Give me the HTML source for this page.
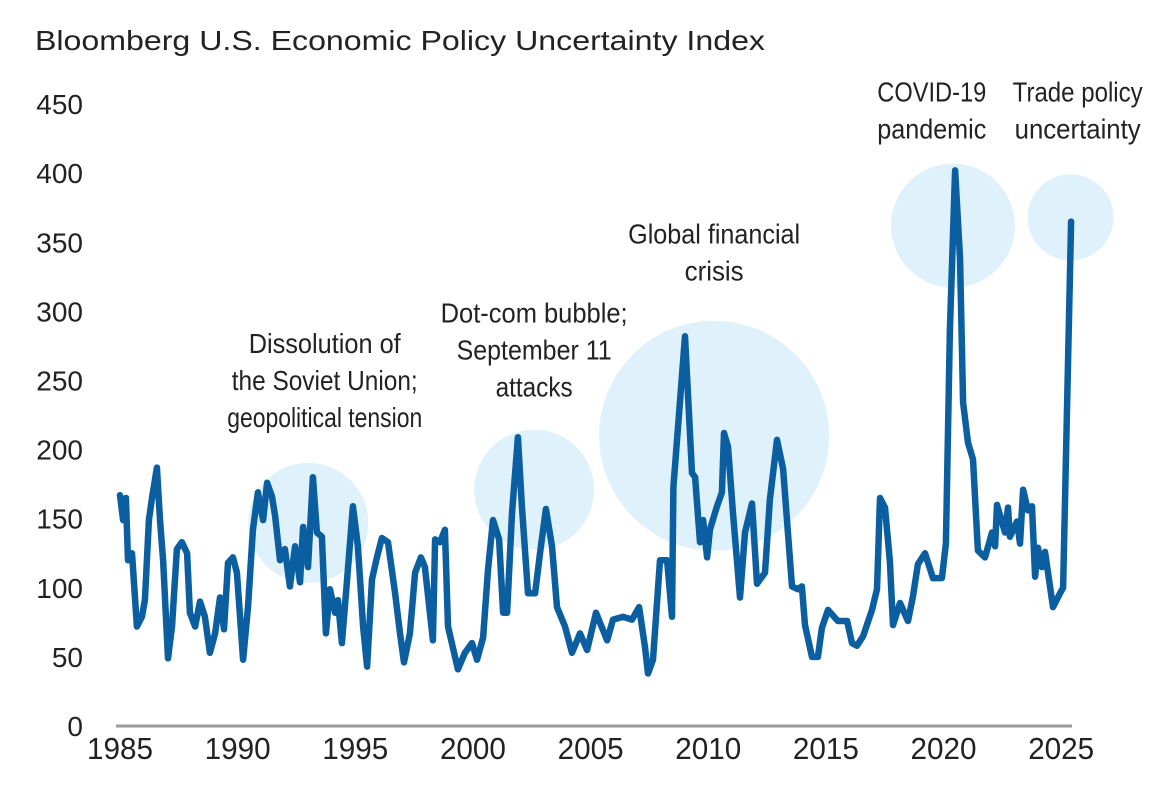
<!DOCTYPE html>
<html><head><meta charset="utf-8"><style>
html,body{margin:0;padding:0;background:#fff;}
svg{display:block;font-family:"Liberation Sans",sans-serif;}
</style></head><body>
<svg id="chart" width="1175" height="788" viewBox="0 0 1175 788" xmlns="http://www.w3.org/2000/svg">
<text x="35" y="50" font-size="28" fill="#222" textLength="730" lengthAdjust="spacingAndGlyphs">Bloomberg U.S. Economic Policy Uncertainty Index</text>
<g id="bubbles"></g>
<g id="yaxis"></g>
<g id="xaxis"></g>
<line x1="116" y1="726" x2="1072" y2="726" stroke="#9a9a9a" stroke-width="3"/>
<path id="series" fill="none" stroke="#0b5fa0" stroke-width="6.5" stroke-linejoin="round" stroke-linecap="round"/>
<g id="annotations" font-size="28" fill="#222"></g>
</svg>
<script>
const years = [
1985.00,1985.13,1985.25,1985.34,1985.51,1985.72,1985.93,1986.06,1986.23,1986.36,
1986.57,1986.70,1986.83,1987.04,1987.21,1987.42,1987.63,1987.85,1987.97,1988.19,
1988.40,1988.61,1988.82,1989.04,1989.25,1989.42,1989.59,1989.80,1989.97,1990.23,
1990.44,1990.65,1990.86,1991.08,1991.25,1991.46,1991.59,1991.80,1992.01,1992.22,
1992.44,1992.65,1992.78,1992.99,1993.20,1993.37,1993.58,1993.75,1993.92,1994.14,
1994.26,1994.43,1994.65,1994.90,1995.11,1995.33,1995.50,1995.71,1995.92,1996.13,
1996.39,1996.69,1996.90,1997.07,1997.32,1997.54,1997.79,1997.96,1998.30,1998.39,
1998.60,1998.81,1998.94,1999.36,1999.66,1999.96,2000.17,2000.43,2000.64,2000.85,
2001.11,2001.28,2001.45,2001.66,2001.91,2002.08,2002.34,2002.64,2002.85,2003.10,
2003.36,2003.57,2003.91,2004.21,2004.55,2004.85,2005.23,2005.70,2005.95,2006.38,
2006.76,2007.06,2007.31,2007.44,2007.65,2007.95,2008.25,2008.46,2008.52,2009.01,
2009.31,2009.44,2009.65,2009.78,2009.95,2010.07,2010.37,2010.58,2010.67,2010.84,
2011.05,2011.35,2011.56,2011.86,2012.07,2012.41,2012.62,2012.92,2013.18,2013.56,
2013.81,2013.98,2014.11,2014.41,2014.66,2014.83,2015.09,2015.51,2015.90,2016.11,
2016.32,2016.58,2016.96,2017.17,2017.30,2017.51,2017.72,2017.85,2018.15,2018.49,
2018.70,2018.91,2019.21,2019.55,2019.93,2020.10,2020.27,2020.49,2020.70,2020.83,
2021.04,2021.25,2021.46,2021.76,2022.06,2022.19,2022.27,2022.61,2022.74,2022.82,
2023.12,2023.25,2023.38,2023.59,2023.76,2023.89,2024.01,2024.18,2024.31,2024.65,
2024.95,2025.08,2025.42];
const values = [
167,149,165,120,125,72,79,91,149,165,
187,149,120,49,72,128,133,125,82,72,
90,79,53,67,93,70,118,122,111,48,
86,142,169,149,176,166,152,120,128,101,
130,104,144,115,180,140,137,67,99,82,
91,60,106,159,130,72,43,106,122,136,
133,96,67,46,67,111,122,115,62,135,
133,142,72,41,53,60,48,64,113,149,
135,82,82,154,209,159,96,96,125,157,
130,86,72,53,67,55,82,62,77,79,
77,86,57,38,48,120,120,79,173,282,
183,180,133,149,122,142,159,169,212,202,
154,93,140,161,103,111,164,207,186,101,
99,101,73,50,50,71,84,76,76,60,
58,65,84,99,165,158,119,73,89,76,
94,117,125,107,107,132,287,402,339,234,
205,193,127,122,140,130,160,140,158,137,
148,132,171,156,159,108,129,115,126,86,
96,100,365];
const yTicks = [0,50,100,150,200,250,300,350,400,450];
const xTicks = [1985,1990,1995,2000,2005,2010,2015,2020,2025];
const bubbleYears = [1993.0,2002.6,2010.25,2020.4,2025.4];
const bubbleValues = [147,171,210,362,368];
const bubbleRadii = [60,60,115,62,43];
const annotationYears = [1993.7,2002.6,2010.25,2019.5,2025.7];
const annotationLines = [["Dissolution of","the Soviet Union;","geopolitical tension"],["Dot-com bubble;","September 11","attacks"],["Global financial","crisis"],["COVID-19","pandemic"],["Trade policy","uncertainty"]];
const annotationTopValues = [270,292,349,452,452];
const annotationWidths = [[152,186,195],[187,155,77],[172,59],[109,109],[130,126]];

const X0=120, PX_PER_YEAR=23.53, Y0=726, PX_PER_UNIT=1.382;
function xs(y){return X0+(y-1985)*PX_PER_YEAR;}
function ys(v){return Y0-v*PX_PER_UNIT;}
const NS="http://www.w3.org/2000/svg";

const bg=document.getElementById('bubbles');
bubbleYears.forEach((b,i)=>{
  const c=document.createElementNS(NS,'circle');
  
  
  c.setAttribute('cx',xs(b));c.setAttribute('cy',ys(bubbleValues[i]));
  c.setAttribute('r',bubbleRadii[i]);c.setAttribute('fill','#dff1fb');
  bg.appendChild(c);
});

const ya=document.getElementById('yaxis');
yTicks.forEach(t=>{
  const tx=document.createElementNS(NS,'text');
  
  
  tx.setAttribute('x',83);tx.setAttribute('y',ys(t)+10);
  tx.setAttribute('text-anchor','end');tx.setAttribute('font-size','28');tx.setAttribute('fill','#222');
  tx.textContent=t;ya.appendChild(tx);
});

const xa=document.getElementById('xaxis');
xTicks.forEach(t=>{
  const tx=document.createElementNS(NS,'text');
  
  
  tx.setAttribute('x',xs(t)-33);tx.setAttribute('y',759);
  tx.setAttribute('font-size','31');tx.setAttribute('fill','#222');
  tx.setAttribute('textLength','66');tx.setAttribute('lengthAdjust','spacingAndGlyphs');
  tx.textContent=t;xa.appendChild(tx);
});

let d='';
const n=Math.min(years.length,values.length);
for(let i=0;i<n;i++){d+=(i?'L':'M')+xs(years[i]).toFixed(1)+' '+ys(values[i]).toFixed(1);}
document.getElementById('series').setAttribute('d',d);

const an=document.getElementById('annotations');
annotationYears.forEach((a,i)=>{
  annotationLines[i].forEach((line,j)=>{
    const tx=document.createElementNS(NS,'text');
    
    
    const w=annotationWidths[i][j];
    tx.setAttribute('x',xs(a)-w/2);tx.setAttribute('y',ys(annotationTopValues[i])+j*37);
    tx.setAttribute('textLength',w);tx.setAttribute('lengthAdjust','spacingAndGlyphs');
    tx.textContent=line;an.appendChild(tx);
  });
});
</script>
</body></html>
